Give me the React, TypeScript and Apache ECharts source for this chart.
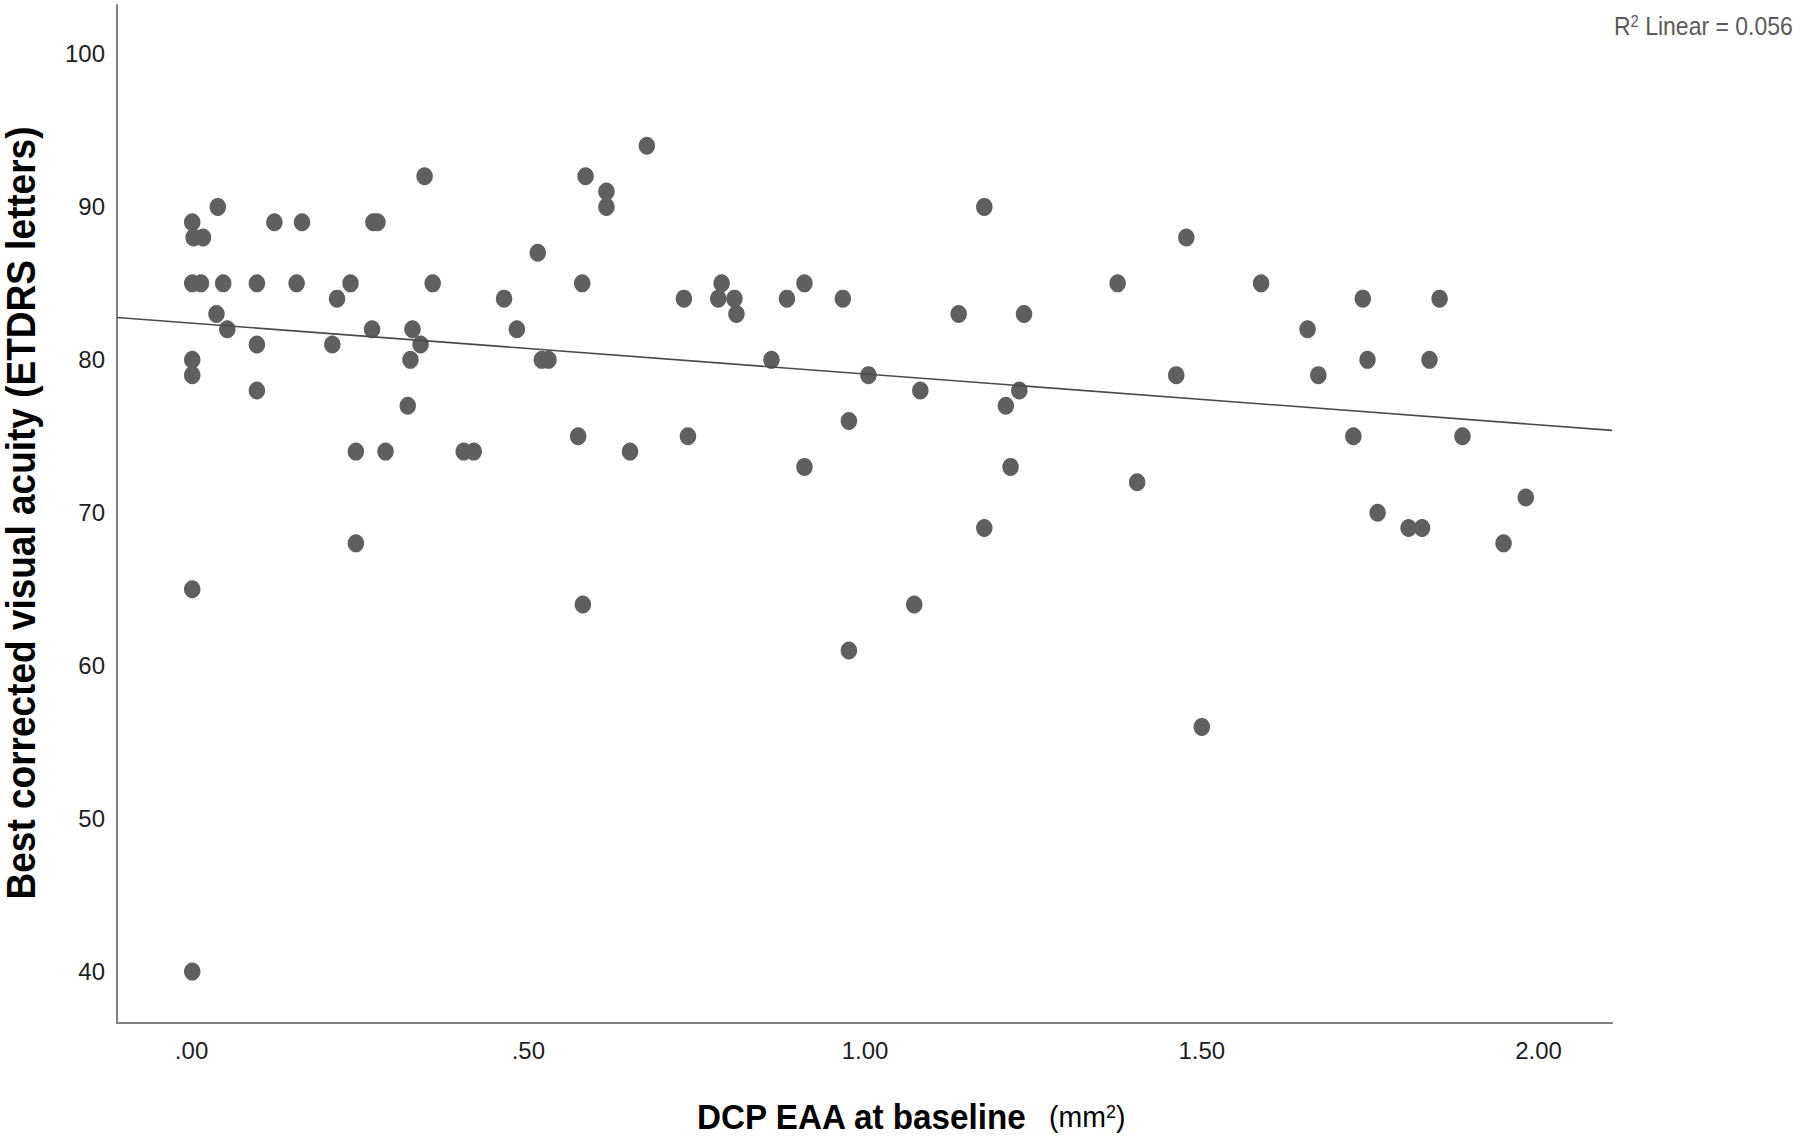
import React, { useEffect, useRef } from "react";
import * as echarts from "echarts";

// Data (DCP EAA at baseline in mm², BCVA in ETDRS letters)
const xValues = [
  0.001, 0.003, 0.017, 0.001, 0.014, 0.039, 0.047, 0.037, 0.053, 0.001,
  0.001, 0.001, 0.001, 0.097, 0.097, 0.097, 0.123, 0.164, 0.156, 0.209,
  0.216, 0.236, 0.244, 0.244, 0.270, 0.276, 0.268, 0.288, 0.321, 0.325,
  0.328, 0.340, 0.346, 0.358, 0.404, 0.419, 0.464, 0.483, 0.514, 0.520,
  0.530, 0.574, 0.580, 0.581, 0.585, 0.616, 0.616, 0.651, 0.676, 0.731,
  0.737, 0.782, 0.787, 0.806, 0.809, 0.861, 0.884, 0.910, 0.910, 0.967,
  0.976, 0.976, 1.005, 1.073, 1.082, 1.139, 1.177, 1.177, 1.209, 1.216,
  1.229, 1.236, 1.375, 1.404, 1.462, 1.477, 1.500, 1.588, 1.657, 1.673,
  1.725, 1.739, 1.746, 1.761, 1.807, 1.827, 1.838, 1.853, 1.887, 1.948,
  1.981,
];
const yValues = [
  89, 88, 88, 85, 85, 90, 85, 83, 82, 80,
  79, 65, 40, 85, 81, 78, 89, 89, 85, 81,
  84, 85, 74, 68, 89, 89, 82, 74, 77, 80,
  82, 81, 92, 85, 74, 74, 84, 82, 87, 80,
  80, 75, 85, 64, 92, 91, 90, 74, 94, 84,
  75, 84, 85, 84, 83, 80, 84, 85, 73, 84,
  76, 61, 79, 64, 78, 83, 90, 69, 77, 73,
  78, 83, 85, 72, 79, 88, 56, 85, 82, 79,
  75, 84, 80, 70, 69, 69, 80, 84, 75, 68,
  71,
];

const xTicks = [0, 0.5, 1, 1.5, 2];
const xTickLabels = [".00", ".50", "1.00", "1.50", "2.00"];
const yTicks = [40, 50, 60, 70, 80, 90, 100];

const xMin = -0.1107;
const xMax = 2.109;
const yMin = 36.64;
const yMax = 103.2;

const fitIntercept = 82.4;
const fitSlope = -3.325;
const rSquaredText = "0.056";

const yTitle = "Best corrected visual acuity (ETDRS letters)";
const xTitle = "DCP EAA at baseline";
const xUnit = "(mm";

const FONT = "'Liberation Sans', Arial, 'DejaVu Sans', sans-serif";

export default function App() {
  const ref = useRef<HTMLDivElement>(null);

  useEffect(() => {
    document.body.style.margin = "0";
    const chart = echarts.init(ref.current!, undefined, { renderer: "svg" });

    const points = xValues.map((x, i) => [x, yValues[i]]);
    const fitX = [xMin, xMax];
    const fitLine = fitX.map((x) => [x, fitIntercept + fitSlope * x]);

    chart.setOption({
      animation: false,
      backgroundColor: "#ffffff",
      grid: { left: 117, right: 188, top: 5, bottom: 116, containLabel: false },
      xAxis: {
        type: "value",
        min: xMin,
        max: xMax,
        splitLine: { show: false },
        axisTick: { show: false },
        axisLine: { show: true, onZero: false, lineStyle: { color: "#808080", width: 2 } },
        axisLabel: {
          customValues: xTicks,
          margin: 15,
          fontSize: 24,
          fontFamily: FONT,
          color: "#1e1e1e",
          formatter: (v: number) => {
            const idx = xTicks.findIndex((t) => Math.abs(t - v) < 1e-6);
            return idx >= 0 ? xTickLabels[idx] : "";
          },
        },
      },
      yAxis: {
        type: "value",
        min: yMin,
        max: yMax,
        splitLine: { show: false },
        axisTick: { show: false },
        axisLine: { show: true, onZero: false, lineStyle: { color: "#808080", width: 2 } },
        axisLabel: {
          customValues: yTicks,
          margin: 12,
          fontSize: 24,
          fontFamily: FONT,
          color: "#1e1e1e",
          formatter: (v: number) => String(Math.round(v)),
        },
      },
      series: [
        {
          type: "scatter",
          data: points,
          symbol: "circle",
          symbolSize: [16.5, 18],
          itemStyle: { color: "#5f5f5f", opacity: 1 },
          z: 2,
        },
        {
          type: "line",
          data: fitLine,
          symbol: "none",
          lineStyle: { color: "#4a4a4a", width: 1.6 },
          z: 3,
        },
      ],
      graphic: [
        {
          type: "text",
          x: 21,
          y: 513,
          rotation: Math.PI / 2,
          scaleX: 0.925,
          style: {
            text: yTitle,
            font: `bold 40px ${FONT}`,
            fill: "#000000",
            align: "center",
            verticalAlign: "middle",
          },
        },
        {
          type: "text",
          x: 697,
          y: 1117,
          scaleX: 0.95,
          style: {
            text: xTitle,
            font: `bold 35px ${FONT}`,
            fill: "#000000",
            align: "left",
            verticalAlign: "middle",
          },
        },
        {
          type: "text",
          x: 1049,
          y: 1117,
          scaleX: 0.95,
          style: {
            text: `{n|${xUnit}}{s|2}{n|)}`,
            align: "left",
            verticalAlign: "middle",
            rich: {
              n: { fontFamily: FONT, fontSize: 30, fill: "#000000", verticalAlign: "bottom" },
              s: { fontFamily: FONT, fontSize: 19, fill: "#000000", verticalAlign: "top" },
            },
          },
        },
        {
          type: "text",
          x: 1614,
          y: 26,
          scaleX: 0.92,
          style: {
            text: `{a|R}{s|2}{a| Linear = ${rSquaredText}}`,
            align: "left",
            verticalAlign: "middle",
            rich: {
              a: { fontFamily: FONT, fontSize: 25, fill: "#5a5a5a", verticalAlign: "bottom" },
              s: { fontFamily: FONT, fontSize: 16, fill: "#5a5a5a", verticalAlign: "top" },
            },
          },
        },
      ],
    });

    return () => chart.dispose();
  }, []);

  return (
    <div
      ref={ref}
      style={{ position: "fixed", left: 0, top: 0, width: 1800, height: 1139, background: "#fff" }}
    />
  );
}
